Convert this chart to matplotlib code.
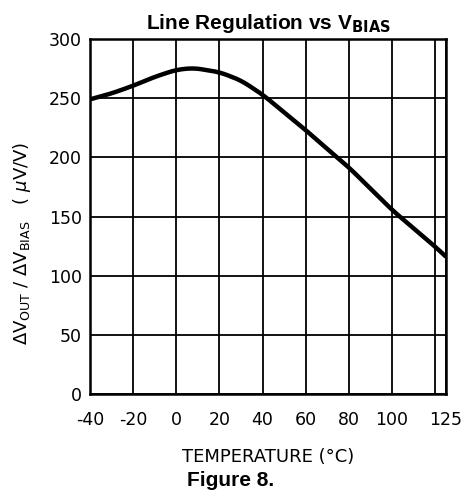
import matplotlib
matplotlib.use("Agg")
import matplotlib.pyplot as plt
import numpy as np

plt.rcParams['axes.unicode_minus'] = False

# temperature (C) vs line regulation (uV/V)
temp = [-40, -30, -20, -10, 0, 8, 20, 30, 40, 50, 60, 70, 80, 90, 100, 110, 120, 125]
reg = [249, 254, 260.5, 268, 274, 275.5, 272, 265, 253, 238, 223, 207, 191.5, 173.5, 155.5, 140, 124.5, 116]

xticks = [-40, -20, 0, 20, 40, 60, 80, 100, 125]
xgrid_extra = [120]
yticks = [0, 50, 100, 150, 200, 250, 300]

fig = plt.figure(figsize=(4.61, 4.93), dpi=100)
ax = fig.add_axes([90/461, 1 - 394/493, 356/461, 355/493])

# light smoothing of the hand-read points for drawing
xs = np.linspace(-40, 125, 331)
ys = np.interp(xs, temp, reg)
k = np.ones(15) / 15
ys_s = np.convolve(np.pad(ys, 7, mode="reflect", reflect_type="odd"), k, mode="valid")
ax.plot(xs, ys_s, color="black", lw=3.2, solid_capstyle="butt", zorder=3)

ax.set_xlim(-40, 125)
ax.set_ylim(0, 300)
ax.set_xticks(xticks)
ax.set_xticks(xgrid_extra, minor=True)
ax.set_yticks(yticks)
ax.grid(True, which="both", color="black", lw=1.3)
ax.tick_params(which="both", length=0, labelsize=12.5)
ax.tick_params(axis="x", pad=12)
ax.tick_params(axis="y", pad=6)
for s in ax.spines.values():
    s.set_linewidth(1.8)

ax.set_xlabel("TEMPERATURE (°C)", fontsize=13, labelpad=14)
ax.set_ylabel(r"$\Delta$V$_{\mathrm{OUT}}$ / $\Delta$V$_{\mathrm{BIAS}}$   ( $\mu$V/V)",
              fontsize=13)
ax.yaxis.set_label_coords(-0.16, 0.425)
ax.set_title(r"Line Regulation vs V$_{\mathbf{BIAS}}$", fontsize=15, fontweight="bold",
             family="Liberation Sans", pad=7)
fig.text(0.5, 1 - 481/493, "Figure 8.", ha="center", va="center", fontsize=15,
         fontweight="bold", family="Liberation Sans")

fig.savefig("out.png", dpi=100)
